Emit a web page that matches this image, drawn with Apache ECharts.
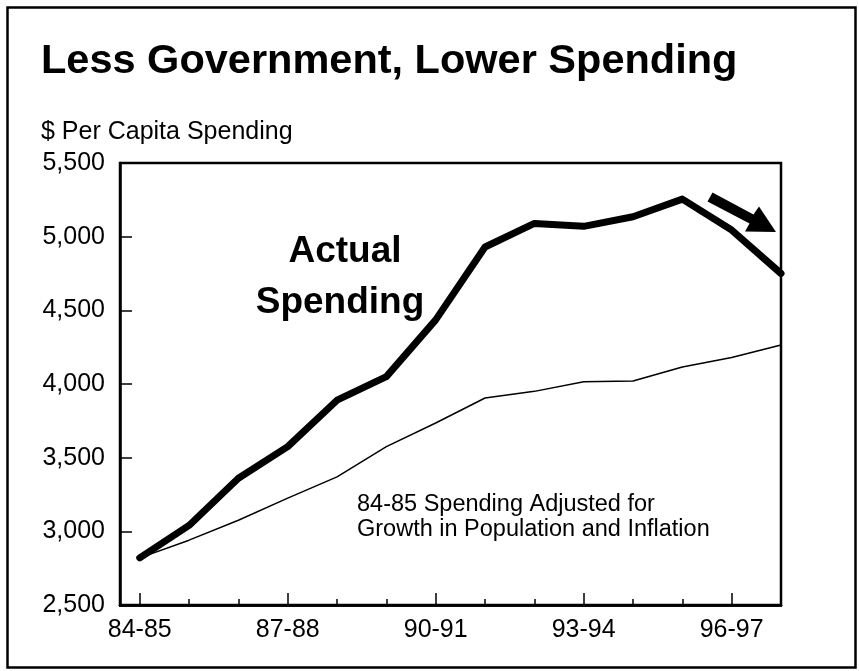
<!DOCTYPE html>
<html>
<head>
<meta charset="utf-8">
<script src="https://cdn.jsdelivr.net/npm/echarts@6/dist/echarts.min.js"></script>
<style>
  html, body { margin: 0; padding: 0; background: #fff; }
  #chart { width: 859px; height: 671px; }
</style>
</head>
<body>
<div id="chart"></div>
<script>
// Fiscal years shown along the bottom axis
const years = ['84-85', '85-86', '86-87', '87-88', '88-89', '89-90', '90-91',
               '91-92', '92-93', '93-94', '94-95', '95-96', '96-97', '97-98'];

// Actual per capita spending ($)
const actualSpending = [2820, 3040, 3360, 3575, 3890, 4050, 4435,
                        4930, 5090, 5070, 5135, 5255, 5045, 4750];

// 84-85 spending grown only with population and inflation ($)
const adjustedSpending = [2820, 2940, 3075, 3225, 3370, 3575, 3735,
                          3905, 3950, 4015, 4020, 4115, 4180, 4265];

// Labelled years and value-axis ticks
const labelledYears = ['84-85', '87-88', '90-91', '93-94', '96-97'];
const yTicks = [2500, 3000, 3500, 4000, 4500, 5000, 5500];

const FONT = '"Liberation Sans", Arial, Helvetica, sans-serif';

const yearIndex = years.map((_, i) => i);
const labelIndex = labelledYears.map(y => years.indexOf(y));
const toPairs = vals => vals.map((v, i) => [i, v]);

const chart = echarts.init(document.getElementById('chart'), null, { renderer: 'canvas' });

const baseX = {
  type: 'value',
  min: -0.4,
  max: 13,
  position: 'bottom',
  splitLine: { show: false },
  axisLine: { show: true, onZero: false, lineStyle: { color: '#000', width: 2.5 } }
};

chart.setOption({
  animation: false,
  backgroundColor: '#fff',
  title: [
    {
      text: 'Less Government, Lower Spending',
      left: 36,
      top: 36,
      textStyle: { fontFamily: FONT, fontSize: 41.5, fontWeight: 'bold', color: '#000', lineHeight: 41 }
    },
    {
      text: '$ Per Capita Spending',
      left: 36,
      top: 115,
      textStyle: { fontFamily: FONT, fontSize: 25, fontWeight: 'normal', color: '#000', lineHeight: 25 }
    }
  ],
  grid: {
    left: 120, right: 78, top: 163, bottom: 66,
    show: true, borderColor: '#000', borderWidth: 2.5, backgroundColor: 'transparent',
    containLabel: false
  },
  xAxis: [
    Object.assign({}, baseX, {
      axisTick: { show: true, inside: true, length: 12, customValues: labelIndex,
                  lineStyle: { color: '#000', width: 1.5 } },
      axisLabel: {
        show: true, margin: 13, customValues: labelIndex,
        fontFamily: FONT, fontSize: 25, color: '#000',
        formatter: v => years[Math.round(v)]
      }
    }),
    Object.assign({}, baseX, {
      axisTick: { show: true, inside: true, length: 6, customValues: yearIndex,
                  lineStyle: { color: '#000', width: 1.5 } },
      axisLabel: { show: false }
    })
  ],
  yAxis: {
    type: 'value',
    min: 2500,
    max: 5500,
    interval: 500,
    position: 'left',
    splitLine: { show: false },
    axisLine: { show: true, onZero: false, lineStyle: { color: '#000', width: 2.5 } },
    axisTick: { show: true, inside: true, length: 12, lineStyle: { color: '#000', width: 1.5 } },
    axisLabel: {
      margin: 15, fontFamily: FONT, fontSize: 25, color: '#000',
      customValues: yTicks,
      padding: [4, 0, 0, 0],
      formatter: v => v.toLocaleString('en-US')
    }
  },
  series: [
    {
      name: 'Adjusted',
      type: 'line',
      data: toPairs(adjustedSpending),
      symbol: 'none',
      lineStyle: { color: '#000', width: 1.5 },
      z: 2
    },
    {
      name: 'Actual Spending',
      type: 'line',
      data: toPairs(actualSpending),
      symbol: 'none',
      lineStyle: { color: '#000', width: 7, cap: 'round', join: 'round' },
      z: 3
    }
  ],
  graphic: [
    // page frame
    {
      type: 'rect', left: 5, top: 5, silent: true,
      shape: { width: 848, height: 660 },
      style: { fill: 'none', stroke: '#000', lineWidth: 2.5 }
    },
    {
      type: 'text', x: 345, y: 252, silent: true,
      style: { text: 'Actual', fontFamily: FONT, fontSize: 37, fontWeight: 'bold', fill: '#000',
               align: 'center', verticalAlign: 'middle' }
    },
    {
      type: 'text', x: 340, y: 303, silent: true,
      style: { text: 'Spending', fontFamily: FONT, fontSize: 37, fontWeight: 'bold', fill: '#000',
               align: 'center', verticalAlign: 'middle' }
    },
    {
      type: 'text', x: 357, y: 505, silent: true,
      style: { text: '84-85 Spending Adjusted for', fontFamily: FONT, fontSize: 23.5, fill: '#000',
               align: 'left', verticalAlign: 'middle' }
    },
    {
      type: 'text', x: 357, y: 530, silent: true,
      style: { text: 'Growth in Population and Inflation', fontFamily: FONT, fontSize: 23.5, fill: '#000',
               align: 'left', verticalAlign: 'middle' }
    },
    // downward-trend arrow
    {
      type: 'polygon', silent: true,
      shape: { points: [[712.5, 192.5], [753.5, 214.5], [759, 206.5], [776, 232],
                        [745, 231.5], [749.5, 223.5], [707.5, 201.5]] },
      style: { fill: '#000' }
    }
  ]
});
</script>
</body>
</html>
